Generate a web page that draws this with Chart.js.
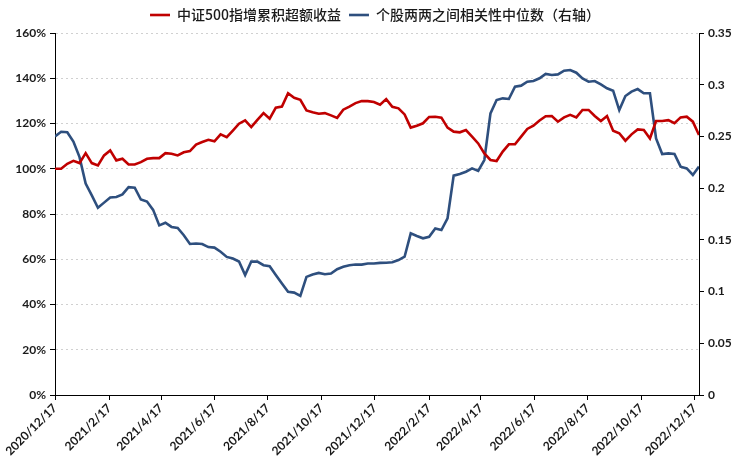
<!DOCTYPE html>
<html>
<head>
<meta charset="utf-8">
<script src="https://cdn.jsdelivr.net/npm/chart.js@4.4.1/dist/chart.umd.min.js"></script>
<style>
html,body{margin:0;padding:0;background:#fff;}
#wrap{width:750px;height:471px;}
</style>
</head>
<body>
<div id="wrap"><canvas id="c" width="750" height="471"></canvas></div>
<script>
// ---- data ----
const startDate = '2020/12/17';
const seriesRedName = '中证500指增累积超额收益';
const seriesBlueName = '个股两两之间相关性中位数（右轴）';
// weekly observations starting at startDate
const excessReturn = [
100,100,102.2,103.5,102.5,106.9,102.5,101.5,105.9,108.1,
103.7,104.4,101.9,101.9,102.9,104.4,104.7,104.7,106.9,106.6,
105.9,107.3,107.8,110.7,111.8,112.8,112.1,115.2,114,116.9,
119.9,121.4,118.4,121.6,124.6,122.1,127,127.5,133.4,131.4,
130.5,125.8,125,124.3,124.6,123.6,122.5,126.1,127.5,129,
129.9,129.9,129.5,128.3,130.8,127.4,126.7,124,118.2,119,
120.1,122.9,123,122.6,118.2,116.4,116.1,117.1,114.2,111.2,
106.8,103.9,103.4,107.6,110.8,110.8,114.2,117.6,119,121.3,
123.2,123.3,120.8,122.7,123.8,122.7,126,126,123.3,121.1,
123.3,116.8,115.7,112.4,115.2,117.4,117.1,113.4,121.1,121.1,
121.5,120.1,122.7,123,120.8,114.9
];
const medianCorr = [
0.25,0.2545,0.254,0.245,0.230,0.2045,0.193,0.181,0.186,0.191,
0.1915,0.194,0.201,0.2005,0.189,0.187,0.179,0.164,0.1665,0.1625,
0.1615,0.1545,0.146,0.1465,0.146,0.143,0.1425,0.1385,0.1335,0.132,
0.129,0.116,0.129,0.129,0.1255,0.1245,0.116,0.1077,0.0997,0.099,
0.0958,0.1142,0.1165,0.118,0.1168,0.1174,0.1216,0.1239,0.1255,0.1261,
0.1261,0.1271,0.1271,0.1277,0.1278,0.1283,0.1305,0.1337,0.1563,0.1537,
0.1515,0.153,0.1611,0.1595,0.1708,0.2121,0.2137,0.2159,0.2191,0.2166,
0.2272,0.2723,0.2852,0.2868,0.2862,0.2981,0.2991,0.3029,0.3036,0.3062,
0.3105,0.3094,0.31,0.3136,0.3142,0.3116,0.3061,0.3029,0.3036,0.3003,
0.2965,0.2942,0.2755,0.2891,0.2933,0.2958,0.2917,0.2917,0.2481,0.233,
0.2336,0.233,0.2208,0.2191,0.2127,0.2208
];
const xTickLabels = ['2020/12/17','2021/2/17','2021/4/17','2021/6/17','2021/8/17','2021/10/17','2021/12/17','2022/2/17','2022/4/17','2022/6/17','2022/8/17','2022/10/17','2022/12/17'];
const rightTickLabels = ['0','0.05','0.1','0.15','0.2','0.25','0.3','0.35'];

// ---- helpers ----
function dayOffset(s){
  const p = s.split('/').map(Number);
  const b = startDate.split('/').map(Number);
  return Math.round((Date.UTC(p[0],p[1]-1,p[2]) - Date.UTC(b[0],b[1]-1,b[2]))/86400000);
}
const tickDays = xTickLabels.map(dayOffset);
const redPts = excessReturn.map((v,i)=>({x:i*7, y:v}));
const bluePts = medianCorr.map((v,i)=>({x:i*7, y:v}));
const xMax = (excessReturn.length-1)*7;

const tickFont = {family:'Lato, "Liberation Sans", Arial, sans-serif', size:12, weight:'bold'};
const legendHeight = {
  id:'legendHeight',
  beforeLayout(chart){
    const lg = chart.legend;
    if (lg && !lg._patched){
      const f = lg.fit;
      lg.fit = function(){ f.call(this); this.height = 33; };
      lg._patched = true;
    }
  }
};

new Chart(document.getElementById('c'), {
  type:'line',
  data:{
    datasets:[
      {label:seriesRedName, data:redPts, yAxisID:'y', borderColor:'#C00000', backgroundColor:'#C00000', borderWidth:2.6, pointRadius:0, tension:0},
      {label:seriesBlueName, data:bluePts, yAxisID:'y1', borderColor:'#2E4F7E', backgroundColor:'#2E4F7E', borderWidth:2.6, pointRadius:0, tension:0}
    ]
  },
  options:{
    responsive:false,
    animation:false,
    layout:{padding:0},
    plugins:{
      legend:{
        position:'top',
        labels:{
          usePointStyle:true, pointStyle:'line', pointStyleWidth:20, boxHeight:14,
          color:'#1a1a1a', padding:8,
          font:{family:'"Noto Sans CJK SC", sans-serif', size:14, weight:'500'}
        }
      },
      tooltip:{enabled:false}
    },
    scales:{
      x:{
        type:'linear', min:0, max:xMax,
        afterBuildTicks(s){ s.ticks = tickDays.map(v=>({value:v})); },
        afterFit(s){ s.height = 76; },
        grid:{drawOnChartArea:false, drawTicks:true, tickLength:5, tickColor:'#000'},
        border:{display:true, color:'#000', width:1},
        ticks:{
          autoSkip:false, maxRotation:45, minRotation:45, padding:1,
          color:'#1a1a1a', font:tickFont,
          callback(v){ const k = tickDays.indexOf(v); return k>=0 ? xTickLabels[k] : ''; }
        }
      },
      y:{
        position:'left', min:0, max:160,
        afterFit(s){ s.width = 55; },
        grid:{color:'#d0d0d0', lineWidth:1, drawTicks:true, tickLength:5, tickColor:'#000', tickBorderDash:[]},
        border:{display:true, color:'#000', width:1, dash:[2,3]},
        ticks:{stepSize:20, padding:4, color:'#1a1a1a', font:tickFont, callback:v=>v+'%'}
      },
      y1:{
        position:'right', min:0, max:0.35,
        afterFit(s){ s.width = 51; },
        grid:{drawOnChartArea:false, drawTicks:true, tickLength:5, tickColor:'#000'},
        border:{display:true, color:'#000', width:1},
        ticks:{stepSize:0.05, padding:4, color:'#1a1a1a', font:tickFont, callback:(v,i)=>rightTickLabels[i]}
      }
    }
  },
  plugins:[legendHeight]
});
</script>
</body>
</html>
